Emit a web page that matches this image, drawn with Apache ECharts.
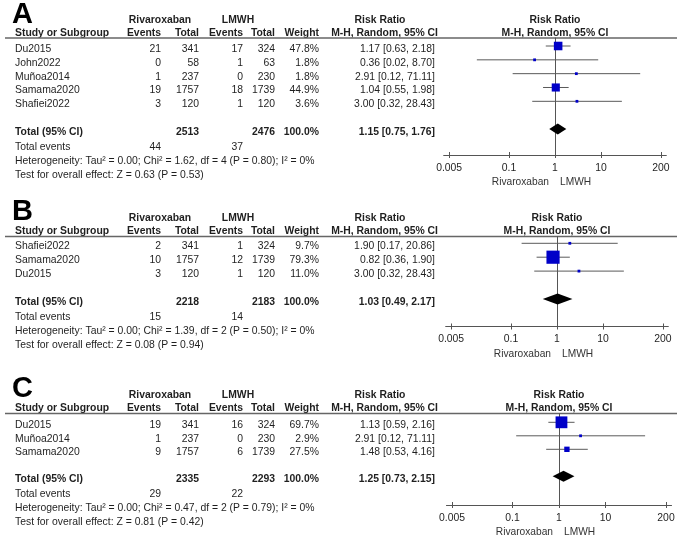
<!DOCTYPE html>
<html>
<head>
<meta charset="utf-8">
<script src="https://cdn.jsdelivr.net/npm/echarts@6/dist/echarts.min.js"></script>
<style>
html,body{margin:0;padding:0;background:#fff;}
#chart{width:685px;height:538px;}
</style>
</head>
<body>
<div id="chart"></div>
<script>
// ---------------- DATA ----------------
const panelLetters = ['A', 'B', 'C'];
const groupNames = ['Rivaroxaban', 'LMWH'];

// Panel A
const studiesA = ['Du2015', 'John2022', 'Muñoa2014', 'Samama2020', 'Shafiei2022'];
const rivEventsA = [21, 0, 1, 19, 3];
const rivTotalA = [341, 58, 237, 1757, 120];
const lmwhEventsA = [17, 1, 0, 18, 1];
const lmwhTotalA = [324, 63, 230, 1739, 120];
const weightA = [47.8, 1.8, 1.8, 44.9, 3.6];
const rrA = [1.17, 0.36, 2.91, 1.04, 3.00];
const loA = [0.63, 0.02, 0.12, 0.55, 0.32];
const hiA = [2.18, 8.70, 71.11, 1.98, 28.43];

// Panel B
const studiesB = ['Shafiei2022', 'Samama2020', 'Du2015'];
const rivEventsB = [2, 10, 3];
const rivTotalB = [341, 1757, 120];
const lmwhEventsB = [1, 12, 1];
const lmwhTotalB = [324, 1739, 120];
const weightB = [9.7, 79.3, 11.0];
const rrB = [1.90, 0.82, 3.00];
const loB = [0.17, 0.36, 0.32];
const hiB = [20.86, 1.90, 28.43];

// Panel C
const studiesC = ['Du2015', 'Muñoa2014', 'Samama2020'];
const rivEventsC = [19, 1, 9];
const rivTotalC = [341, 237, 1757];
const lmwhEventsC = [16, 0, 6];
const lmwhTotalC = [324, 230, 1739];
const weightC = [69.7, 2.9, 27.5];
const rrC = [1.13, 2.91, 1.48];
const loC = [0.59, 0.12, 0.53];
const hiC = [2.16, 71.11, 4.16];

// Totals (A, B, C)
const totalRivN = [2513, 2218, 2335];
const totalLmwhN = [2476, 2183, 2293];
const totalRR = [1.15, 1.03, 1.25];
const totalLo = [0.75, 0.49, 0.73];
const totalHi = [1.76, 2.17, 2.15];
const totalRivEvents = [44, 15, 29];
const totalLmwhEvents = [37, 14, 22];
const heterogeneity = [
  'Heterogeneity: Tau² = 0.00; Chi² = 1.62, df = 4 (P = 0.80); I² = 0%',
  'Heterogeneity: Tau² = 0.00; Chi² = 1.39, df = 2 (P = 0.50); I² = 0%',
  'Heterogeneity: Tau² = 0.00; Chi² = 0.47, df = 2 (P = 0.79); I² = 0%'
];
const overallEffect = [
  'Test for overall effect: Z = 0.63 (P = 0.53)',
  'Test for overall effect: Z = 0.08 (P = 0.94)',
  'Test for overall effect: Z = 0.81 (P = 0.42)'
];
const tickValues = [0.005, 0.1, 1, 10, 200];
const tickLabels = ['0.005', '0.1', '1', '10', '200'];

// ---------------- LAYOUT ----------------
const panels = [
  { letter: panelLetters[0], studies: studiesA, re: rivEventsA, rt: rivTotalA, le: lmwhEventsA, lt: lmwhTotalA, w: weightA, rr: rrA, lo: loA, hi: hiA,
    sepY: 38, axisY: 155, rowStart: 46, rowStep: 13.83, totalIdx: 6, xCenter: 555, decade: 46, letterY: 15 },
  { letter: panelLetters[1], studies: studiesB, re: rivEventsB, rt: rivTotalB, le: lmwhEventsB, lt: lmwhTotalB, w: weightB, rr: rrB, lo: loB, hi: hiB,
    sepY: 236.5, axisY: 326.5, rowStart: 243.3, rowStep: 13.9, totalIdx: 4, xCenter: 557, decade: 46, letterY: 211.5 },
  { letter: panelLetters[2], studies: studiesC, re: rivEventsC, rt: rivTotalC, le: lmwhEventsC, lt: lmwhTotalC, w: weightC, rr: rrC, lo: loC, hi: hiC,
    sepY: 413.5, axisY: 505, rowStart: 422.3, rowStep: 13.5, totalIdx: 4, xCenter: 559, decade: 46.5, letterY: 388.5 }
];

const FONT = "'Liberation Sans', Arial, sans-serif";
const FS = 10.4;
const TXT = '#1f1f1f';
const LINEC = '#555';
const XEXT = 2.42;
const TEXT_OFF = 3;

const col = { name: 15, evR: 161, totR: 199, ev2R: 243, tot2R: 275, wR: 319, rrR: 435 };

function fmtRR(r, l, h) { return r.toFixed(2) + ' [' + l.toFixed(2) + ', ' + h.toFixed(2) + ']'; }

const grids = [], xAxes = [], yAxes = [], series = [], graphics = [];

function txt(x, y, s, opt) {
  opt = opt || {};
  graphics.push({
    type: 'text', x: x, y: y, silent: true,
    style: {
      text: s, fill: opt.fill || TXT,
      font: (opt.bold ? 'bold ' : '') + (opt.size || FS) + 'px ' + (opt.family || FONT),
      align: opt.align || 'left', verticalAlign: opt.va || 'middle'
    }
  });
}

panels.forEach((p, i) => {
  const left = p.xCenter - XEXT * p.decade;
  const width = 2 * XEXT * p.decade;
  const yMin = -(p.rowStart - p.sepY) / p.rowStep;
  const yMax = (p.axisY - p.rowStart) / p.rowStep;
  const height = p.axisY - p.sepY;
  grids.push({ left: left, top: p.sepY, width: width, height: height, outerBoundsMode: 'none', containLabel: false });
  const logTicks = tickValues.map(v => Math.log10(v));
  const lblFmt = v => {
    let best = 0, bd = 1e9;
    logTicks.forEach((t, k) => { const d = Math.abs(t - v); if (d < bd) { bd = d; best = k; } });
    return tickLabels[best];
  };
  // main axis (line, outward ticks, labels)
  xAxes.push({
    type: 'value', gridIndex: i, position: 'bottom', min: -XEXT, max: XEXT,
    axisLine: { show: true, onZero: false, lineStyle: { color: LINEC, width: 1 } },
    axisTick: { show: true, length: 3, inside: false, customValues: logTicks, lineStyle: { color: LINEC } },
    axisLabel: { show: true, customValues: logTicks, formatter: lblFmt, margin: 8, color: TXT, fontSize: 10.4, fontFamily: FONT },
    splitLine: { show: false }
  });
  // helper axis for upward half of ticks
  xAxes.push({
    type: 'value', gridIndex: i, position: 'top', offset: -height, min: -XEXT, max: XEXT,
    axisLine: { show: false, onZero: false },
    axisTick: { show: true, length: 3, inside: false, customValues: logTicks, lineStyle: { color: LINEC } },
    axisLabel: { show: false }, splitLine: { show: false }
  });
  yAxes.push({
    type: 'value', gridIndex: i, inverse: true, min: yMin, max: yMax,
    axisLine: { show: true, onZero: true, lineStyle: { color: LINEC, width: 1 } },
    axisTick: { show: false }, axisLabel: { show: false }, splitLine: { show: false }
  });

  const data = p.studies.map((s, k) => [k, Math.log10(p.rr[k]), Math.log10(p.lo[k]), Math.log10(p.hi[k]), p.w[k], 0]);
  data.push([p.totalIdx, Math.log10(totalRR[i]), Math.log10(totalLo[i]), Math.log10(totalHi[i]), 100, 1]);

  series.push({
    type: 'custom', xAxisIndex: 2 * i, yAxisIndex: i, silent: true, clip: false,
    encode: { x: [1, 2, 3], y: 0 },
    data: data,
    renderItem: function (params, api) {
      const row = api.value(0);
      const c = api.coord([api.value(1), row]);
      const l = api.coord([api.value(2), row]);
      const h = api.coord([api.value(3), row]);
      if (api.value(5)) {
        const hh = 5.5;
        return {
          type: 'polygon',
          shape: { points: [[l[0], c[1]], [c[0], c[1] - hh], [h[0], c[1]], [c[0], c[1] + hh]] },
          style: { fill: '#000' }
        };
      }
      const w = api.value(4);
      const side = Math.max(2.8, 0.32 * Math.pow(w, 0.85));
      return {
        type: 'group',
        children: [
          { type: 'line', shape: { x1: l[0], y1: c[1], x2: h[0], y2: c[1] }, style: { stroke: '#5a5a5a', lineWidth: 1 } },
          { type: 'rect', shape: { x: c[0] - side / 2, y: c[1] - side / 2, width: side, height: side }, style: { fill: '#0000c8' } }
        ]
      };
    }
  });

  // ------- text -------
  const h2 = p.sepY - 5;
  const h1 = h2 - 13;
  txt(12, p.letterY, p.letter, { bold: true, size: 29, fill: '#000' });
  txt(160, h1, groupNames[0], { bold: true, align: 'center' });
  txt(238, h1, groupNames[1], { bold: true, align: 'center' });
  txt(380, h1, 'Risk Ratio', { bold: true, align: 'center' });
  txt(p.xCenter, h1, 'Risk Ratio', { bold: true, align: 'center' });
  txt(col.name, h2, 'Study or Subgroup', { bold: true });
  txt(col.evR, h2, 'Events', { bold: true, align: 'right' });
  txt(col.totR, h2, 'Total', { bold: true, align: 'right' });
  txt(col.ev2R, h2, 'Events', { bold: true, align: 'right' });
  txt(col.tot2R, h2, 'Total', { bold: true, align: 'right' });
  txt(col.wR, h2, 'Weight', { bold: true, align: 'right' });
  txt(438, h2, 'M-H, Random, 95% CI', { bold: true, align: 'right' });
  txt(p.xCenter, h2, 'M-H, Random, 95% CI', { bold: true, align: 'center' });
  graphics.push({ type: 'line', silent: true, shape: { x1: 5, y1: p.sepY, x2: 677, y2: p.sepY }, style: { stroke: '#666', lineWidth: 1.5 } });

  p.studies.forEach((s, k) => {
    const y = p.rowStart + k * p.rowStep + TEXT_OFF;
    txt(col.name, y, s);
    txt(col.evR, y, String(p.re[k]), { align: 'right' });
    txt(col.totR, y, String(p.rt[k]), { align: 'right' });
    txt(col.ev2R, y, String(p.le[k]), { align: 'right' });
    txt(col.tot2R, y, String(p.lt[k]), { align: 'right' });
    txt(col.wR, y, p.w[k].toFixed(1) + '%', { align: 'right' });
    txt(col.rrR, y, fmtRR(p.rr[k], p.lo[k], p.hi[k]), { align: 'right' });
  });
  const ty = p.rowStart + p.totalIdx * p.rowStep + TEXT_OFF;
  txt(col.name, ty, 'Total (95% CI)', { bold: true });
  txt(col.totR, ty, String(totalRivN[i]), { bold: true, align: 'right' });
  txt(col.tot2R, ty, String(totalLmwhN[i]), { bold: true, align: 'right' });
  txt(col.wR, ty, '100.0%', { bold: true, align: 'right' });
  txt(col.rrR, ty, fmtRR(totalRR[i], totalLo[i], totalHi[i]), { bold: true, align: 'right' });
  txt(col.name, ty + 15, 'Total events');
  txt(col.evR, ty + 15, String(totalRivEvents[i]), { align: 'right' });
  txt(col.ev2R, ty + 15, String(totalLmwhEvents[i]), { align: 'right' });
  txt(col.name, ty + 29, heterogeneity[i]);
  txt(col.name, ty + 43, overallEffect[i]);

  txt(p.xCenter - 6, p.axisY + 27.5, groupNames[0], { align: 'right', fill: '#333', size: 10.2 });
  txt(p.xCenter + 5, p.axisY + 27.5, groupNames[1], { align: 'left', fill: '#333', size: 10.2 });
});

const chart = echarts.init(document.getElementById('chart'), null, { renderer: 'canvas' });
chart.setOption({
  animation: false,
  backgroundColor: '#fff',
  grid: grids,
  xAxis: xAxes,
  yAxis: yAxes,
  series: series,
  graphic: { elements: graphics }
});
</script>
</body>
</html>
